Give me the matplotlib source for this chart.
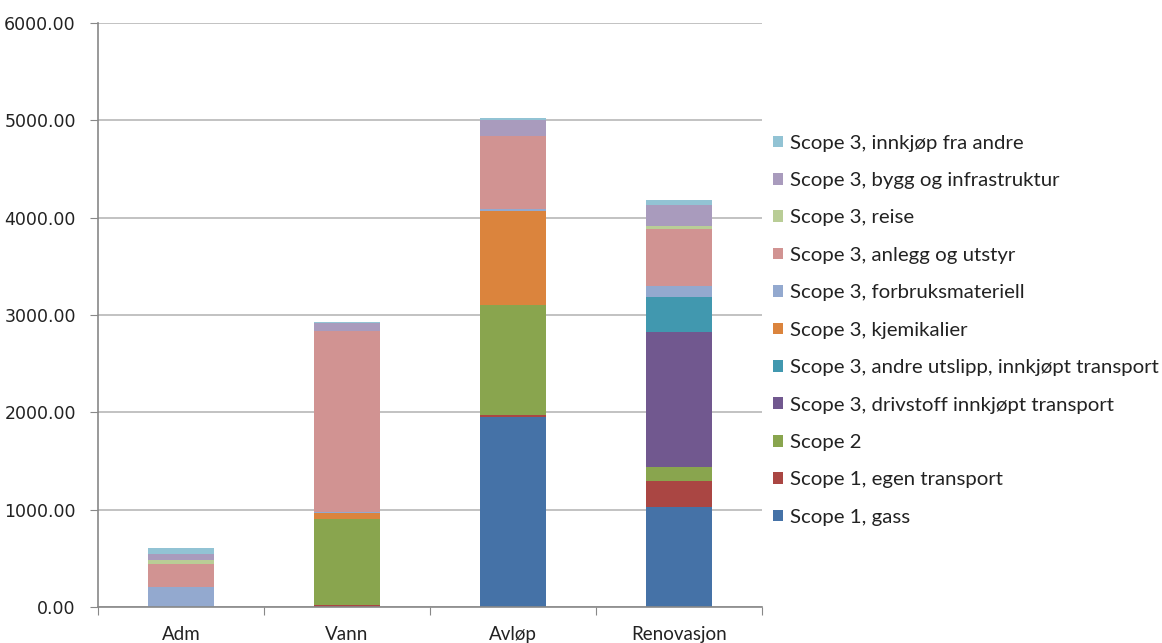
import numpy as np
import matplotlib
matplotlib.use('Agg')
import matplotlib.pyplot as plt

# klimagassutslipp per virksomhetsområde (stablet, nederst først)
categories = ['Adm', 'Vann', 'Avløp', 'Renovasjon']
gass = [0, 0, 1952, 1030]
egen_transport = [0, 20, 17, 267]
scope2 = [0, 882, 1137, 143]
drivstoff = [0, 0, 0, 1389]
andre_utslipp = [0, 0, 0, 356]
kjemikalier = [0, 65, 959, 0]
forbruk = [205, 10, 24, 113]
anlegg = [233, 1862, 747, 585]
reise = [48, 0, 0, 31]
bygg = [58, 82, 171, 215]
innkjop = [58, 7, 20, 52]

series = [
    ('Scope 1, gass', gass, '#4572A7'),
    ('Scope 1, egen transport', egen_transport, '#AA4643'),
    ('Scope 2', scope2, '#89A54E'),
    ('Scope 3, drivstoff innkjøpt transport', drivstoff, '#71588F'),
    ('Scope 3, andre utslipp, innkjøpt transport', andre_utslipp, '#4198AF'),
    ('Scope 3, kjemikalier', kjemikalier, '#DB843D'),
    ('Scope 3, forbruksmateriell', forbruk, '#93A9CF'),
    ('Scope 3, anlegg og utstyr', anlegg, '#D19392'),
    ('Scope 3, reise', reise, '#B9CD96'),
    ('Scope 3, bygg og infrastruktur', bygg, '#A99BBD'),
    ('Scope 3, innkjøp fra andre', innkjop, '#92C3D4'),
]

fig = plt.figure(figsize=(11.62, 6.43), dpi=100)
ax = fig.add_axes([98 / 1162, 1 - 607 / 643, 664 / 1162, 584 / 643])

x = np.arange(len(categories))
bottom = np.zeros(len(categories))
for label, vals, col in series:
    ax.bar(x, vals, 0.4, bottom=bottom, color=col, label=label, linewidth=0)
    bottom += np.array(vals)

ax.set_xlim(-0.5, 3.5)
ax.set_ylim(0, 6000)
ax.set_yticks(np.arange(0, 6001, 1000))
ax.set_yticklabels(['%.2f' % v for v in np.arange(0, 6001, 1000)],
                   fontsize=12.5, family='DejaVu Sans', color='#222222')
ax.yaxis.grid(True, color='#bdbdbd', linewidth=1.3)
ax.set_axisbelow(True)

# kategorietiketter midt på søylene, tick-merker mellom kategoriene
ax.set_xticks(np.arange(-0.5, 4, 1))
ax.set_xticklabels([])
ax.set_xticks(x, minor=True)
ax.set_xticklabels(categories, minor=True, fontsize=13.5, family='Lato', color='#222222')
ax.tick_params(axis='x', which='minor', length=0, pad=14)
ax.tick_params(axis='x', which='major', length=6, color='#888888')
ax.tick_params(axis='y', length=6, color='#888888', pad=10)

for s in ['top', 'right']:
    ax.spines[s].set_visible(False)
for s in ['left', 'bottom']:
    ax.spines[s].set_color('#888888')
    ax.spines[s].set_linewidth(1.2)

handles, labels = ax.get_legend_handles_labels()
leg = ax.legend(handles[::-1], labels[::-1], loc='center left',
                bbox_to_anchor=(1.016, 0.474), frameon=False,
                prop={'family': 'Lato', 'size': 14.7},
                handlelength=0.5, handleheight=0.5, handletextpad=0.35,
                labelspacing=1.0, borderpad=0, borderaxespad=0)
for t in leg.get_texts():
    t.set_color('#222222')

fig.savefig('out.png', dpi=100, facecolor='white')
